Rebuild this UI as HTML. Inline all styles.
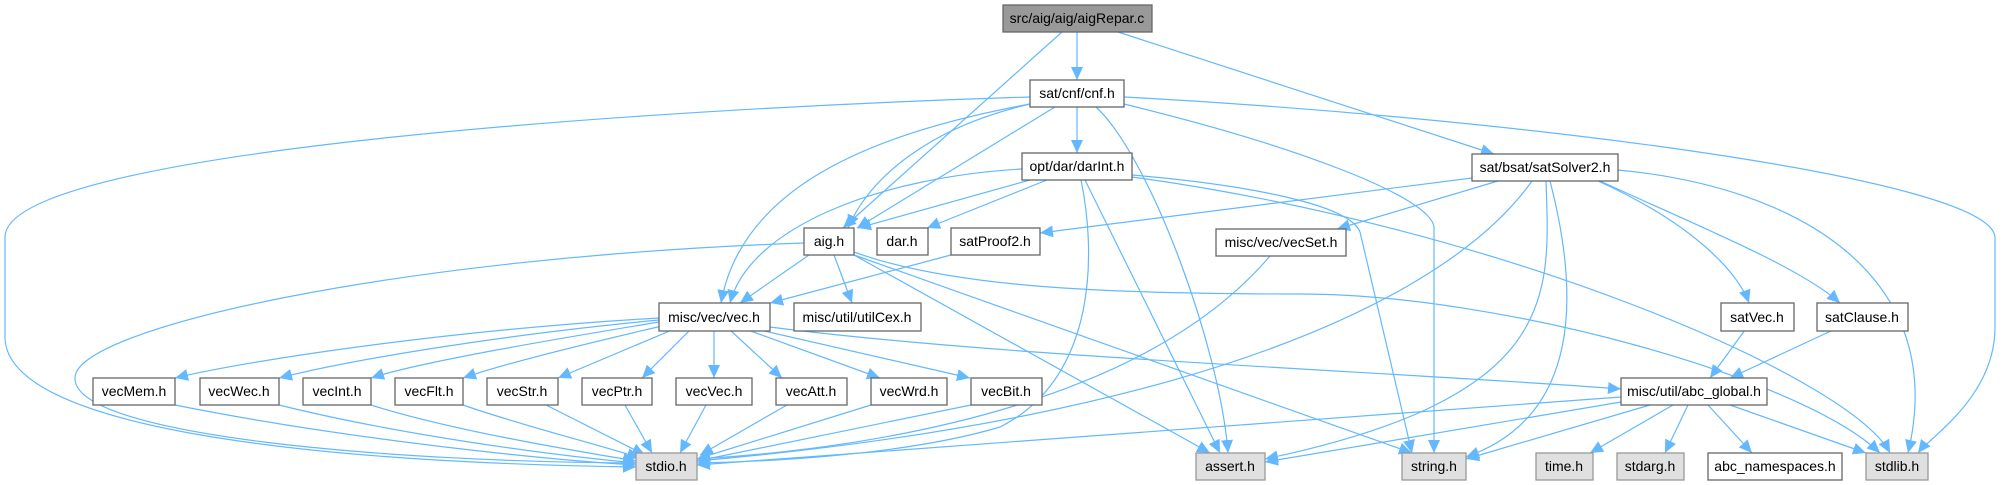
<!DOCTYPE html>
<html><head><meta charset="utf-8"><style>
body{margin:0;background:#fff;width:2005px;height:485px;overflow:hidden}
svg{display:block}
text{font-family:"Liberation Sans",Arial,sans-serif;font-size:14px;fill:#000;text-anchor:middle}
.n{fill:#fff;stroke:#666;stroke-width:1.3}
.g{fill:#e0e0e0;stroke:#999;stroke-width:1.3}
.e path{fill:none;stroke:#63b8ff;stroke-width:1.2;marker-end:url(#a)}
</style></head><body>
<svg width="2005" height="485" viewBox="0 0 2005 485">
<defs><marker id="a" markerUnits="userSpaceOnUse" markerWidth="14" markerHeight="12" refX="13" refY="6" orient="auto"><path d="M0,0 L13,6 L0,12 z" fill="#63b8ff"/></marker></defs>
<g class="e">
<path d="M1077 32 L1077 80"/>
<path d="M1062 32 L843 228"/>
<path d="M1118 32 L1494 154"/>
<path d="M1030 97 C700 107,5 147,5 237 L5 337 C5 427,300 462,636 467"/>
<path d="M1030 104 C930 127,870 177,848 228"/>
<path d="M1055 107 L857 228"/>
<path d="M1030 104 C850 137,740 197,721 303"/>
<path d="M1077 107 L1077 153"/>
<path d="M1096 107 C1150 157,1220 347,1228 453"/>
<path d="M1124 104 C1300 147,1430 197,1434 227 L1434 453"/>
<path d="M1124 97 C1500 117,1990 177,1995 237 L1995 327 C1995 397,1930 437,1918 453"/>
<path d="M1030 180 L858 228"/>
<path d="M1022 169 C880 177,750 227,730 303"/>
<path d="M1047 180 L927 228"/>
<path d="M1081 180 C1095 247,1100 377,1000 427 C900 457,750 462,697 463"/>
<path d="M1085 180 L1220 453"/>
<path d="M1132 175 C1250 185,1350 205,1360 232 L1412 453"/>
<path d="M1132 177 C1500 227,1850 377,1890 453"/>
<path d="M804 243 C400 257,80 327,75 377 C70 437,400 462,636 463"/>
<path d="M809 255 L740 303"/>
<path d="M834 255 L852 303"/>
<path d="M854 255 L1210 453"/>
<path d="M854 255 L1412 453"/>
<path d="M854 252 C950 287,1100 294,1300 294 C1500 294,1800 377,1880 453"/>
<path d="M951 255 L770 303"/>
<path d="M1472 178 L1040 233"/>
<path d="M1498 181 L1337 229"/>
<path d="M1532 181 C1450 297,1200 417,697 461"/>
<path d="M1546 181 C1550 297,1560 397,1265 459"/>
<path d="M1550 181 C1580 297,1580 417,1466 457"/>
<path d="M1598 181 C1700 227,1740 277,1749 303"/>
<path d="M1600 181 C1700 227,1800 267,1840 303"/>
<path d="M1618 170 C1800 187,1950 277,1908 453"/>
<path d="M1270 256 C1150 397,900 447,697 459"/>
<path d="M659 318 C450 330,250 360,175 378"/>
<path d="M659 320 C500 335,350 360,279 378"/>
<path d="M659 322 C550 340,420 362,371 378"/>
<path d="M662 326 C580 345,500 365,463 378"/>
<path d="M672 330 L558 378"/>
<path d="M690 330 L642 378"/>
<path d="M714 330 L714 378"/>
<path d="M730 330 L782 378"/>
<path d="M748 330 L880 378"/>
<path d="M760 330 L970 378"/>
<path d="M770 327 C1000 357,1400 372,1621 389"/>
<path d="M175 405 C350 440,550 460,636 465"/>
<path d="M279 405 C400 435,550 455,636 463"/>
<path d="M371 405 C450 430,570 450,636 461"/>
<path d="M463 405 C520 425,600 445,640 458"/>
<path d="M546 405 L645 455"/>
<path d="M625 405 L652 453"/>
<path d="M706 405 L680 453"/>
<path d="M787 405 L700 455"/>
<path d="M871 405 L697 459"/>
<path d="M971 405 L697 461"/>
<path d="M1745 330 L1710 378"/>
<path d="M1833 330 L1730 378"/>
<path d="M1621 397 L697 465"/>
<path d="M1621 402 L1265 462"/>
<path d="M1650 405 L1466 459"/>
<path d="M1673 405 L1590 453"/>
<path d="M1688 405 L1665 453"/>
<path d="M1708 405 L1752 453"/>
<path d="M1730 405 L1866 453"/>
</g>
<g>
<rect x="1003" y="5" width="149" height="27" fill="#999" stroke="#666" stroke-width="1.3"/><text x="1077" y="23">src/aig/aig/aigRepar.c</text>
<rect class="n" x="1030" y="80" width="94" height="27"/><text x="1077" y="98">sat/cnf/cnf.h</text>
<rect class="n" x="1022" y="153" width="110" height="27"/><text x="1077" y="171">opt/dar/darInt.h</text>
<rect class="n" x="1472" y="154" width="146" height="27"/><text x="1545" y="172">sat/bsat/satSolver2.h</text>
<rect class="n" x="804" y="228" width="50" height="27"/><text x="829" y="246">aig.h</text>
<rect class="n" x="877" y="228" width="51" height="27"/><text x="902" y="246">dar.h</text>
<rect class="n" x="951" y="228" width="89" height="27"/><text x="995" y="246">satProof2.h</text>
<rect class="n" x="1216" y="229" width="130" height="27"/><text x="1281" y="247">misc/vec/vecSet.h</text>
<rect class="n" x="659" y="303" width="111" height="28"/><text x="714" y="322">misc/vec/vec.h</text>
<rect class="n" x="794" y="303" width="127" height="28"/><text x="857" y="322">misc/util/utilCex.h</text>
<rect class="n" x="1721" y="303" width="73" height="28"/><text x="1757" y="322">satVec.h</text>
<rect class="n" x="1817" y="303" width="91" height="28"/><text x="1862" y="322">satClause.h</text>
<rect class="n" x="93" y="378" width="82" height="27"/><text x="134" y="396">vecMem.h</text>
<rect class="n" x="200" y="378" width="79" height="27"/><text x="239" y="396">vecWec.h</text>
<rect class="n" x="303" y="378" width="68" height="27"/><text x="337" y="396">vecInt.h</text>
<rect class="n" x="395" y="378" width="68" height="27"/><text x="429" y="396">vecFlt.h</text>
<rect class="n" x="487" y="378" width="71" height="27"/><text x="522" y="396">vecStr.h</text>
<rect class="n" x="582" y="378" width="70" height="27"/><text x="617" y="396">vecPtr.h</text>
<rect class="n" x="676" y="378" width="76" height="27"/><text x="714" y="396">vecVec.h</text>
<rect class="n" x="776" y="378" width="71" height="27"/><text x="811" y="396">vecAtt.h</text>
<rect class="n" x="871" y="378" width="76" height="27"/><text x="909" y="396">vecWrd.h</text>
<rect class="n" x="971" y="378" width="71" height="27"/><text x="1006" y="396">vecBit.h</text>
<rect class="n" x="1621" y="378" width="146" height="27"/><text x="1694" y="396">misc/util/abc_global.h</text>
<rect class="g" x="636" y="453" width="61" height="27"/><text x="666" y="471">stdio.h</text>
<rect class="g" x="1196" y="453" width="69" height="27"/><text x="1230" y="471">assert.h</text>
<rect class="g" x="1402" y="453" width="64" height="27"/><text x="1434" y="471">string.h</text>
<rect class="g" x="1536" y="453" width="57" height="27"/><text x="1564" y="471">time.h</text>
<rect class="g" x="1617" y="453" width="67" height="27"/><text x="1650" y="471">stdarg.h</text>
<rect class="n" x="1708" y="453" width="134" height="27"/><text x="1775" y="471">abc_namespaces.h</text>
<rect class="g" x="1866" y="453" width="62" height="27"/><text x="1897" y="471">stdlib.h</text>
</g>
</svg>
</body></html>
